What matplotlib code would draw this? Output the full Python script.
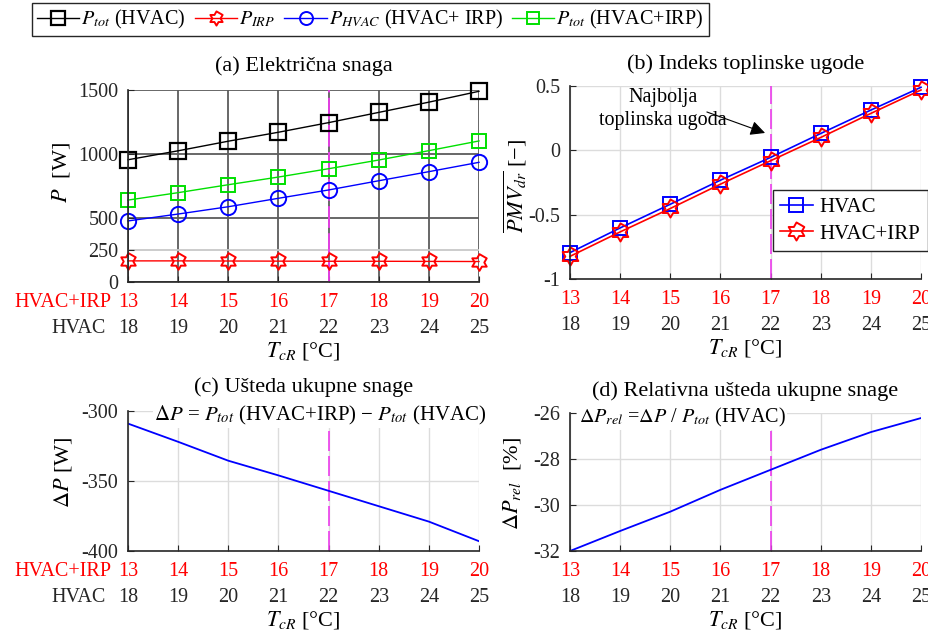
import numpy as np
import matplotlib
matplotlib.use("Agg")
import matplotlib.pyplot as plt
from matplotlib.path import Path

plt.rcParams["font.family"] = ["Liberation Serif", "DejaVu Serif"]
plt.rcParams["mathtext.fontset"] = "stix"
plt.rcParams["axes.unicode_minus"] = False

# data
t_irp = [13, 14, 15, 16, 17, 18, 19, 20]
t_hvac = [18, 19, 20, 21, 22, 23, 24, 25]
p_tot_hvac = [955, 1025, 1100, 1170, 1245, 1325, 1405, 1490]
p_irp = [165, 165, 164, 163, 162, 162, 161, 160]
p_hvac_irp = [477, 531, 588, 654, 719, 791, 862, 935]
p_tot_irp = [640, 698, 760, 820, 885, 953, 1026, 1102]
pmv_hvac = [-0.795, -0.603, -0.419, -0.232, -0.055, 0.131, 0.313, 0.49]
pmv_irp = [-0.824, -0.634, -0.452, -0.263, -0.081, 0.10, 0.287, 0.469]
delta_p = [-309, -322, -335.5, -346, -357, -368, -379, -393]
delta_p_rel = [-32.0, -31.13, -30.29, -29.34, -28.47, -27.6, -26.83, -26.22]
best_t = 17

W, H = 929, 636
TICK_FS = 14.5
MAG = "#ec3cec"

# six pointed star marker
ang = np.deg2rad(90 + 30 * np.arange(12))
rad = np.where(np.arange(12) % 2 == 0, 1.0, 1 / np.sqrt(3))
hexagram = Path(np.column_stack([rad * np.cos(ang), rad * np.sin(ang)]), closed=True)


def px_axes(left, right, top, bottom):
    return fig.add_axes([left / W, 1 - bottom / H, (right - left) / W, (bottom - top) / H])


def style(ax, dark=False):
    for s in ["top", "right"]:
        ax.spines[s].set_visible(False)
    for s in ["left", "bottom"]:
        ax.spines[s].set_color("#262626")
        ax.spines[s].set_linewidth(1.2)
    ax.tick_params(direction="in", length=4, labelsize=TICK_FS, colors="#262626", pad=7)
    ax.set_xlim(13, 20)
    ax.set_xticks(t_irp)
    ax.set_xticklabels([])
    if dark:
        ax.grid(True, color="#5c5c5c", lw=1.3)
    else:
        ax.grid(True, color="#dcdcdc", lw=1.0)
    ax.set_axisbelow(True)


def two_rows(ax, names=True):
    tr = ax.get_xaxis_transform()
    for a, b in zip(t_irp, t_hvac):
        ax.annotate(str(a), xy=(a, 0), xycoords=tr, xytext=(0, -14.5), textcoords="offset points",
                    ha="center", va="center", color="red", fontsize=TICK_FS, annotation_clip=False)
        ax.annotate(str(b), xy=(b - 5, 0), xycoords=tr, xytext=(0, -33.5), textcoords="offset points",
                    ha="center", va="center", color="#262626", fontsize=TICK_FS, annotation_clip=False)
    if names:
        ax.annotate("HVAC+IRP", xy=(0, 0), xycoords="axes fraction", xytext=(-12, -14.5),
                    textcoords="offset points", ha="right", va="center", color="red", fontsize=TICK_FS)
        ax.annotate("HVAC", xy=(0, 0), xycoords="axes fraction", xytext=(-16, -33.5),
                    textcoords="offset points", ha="right", va="center", color="#262626", fontsize=TICK_FS)
    ax.annotate(r"$T_{cR}$ [°C]", xy=(0.5, 0), xycoords="axes fraction", xytext=(0, -50),
                textcoords="offset points", ha="center", va="center", fontsize=16)


fig = plt.figure(figsize=(W / 100, H / 100), dpi=100)

# (a) electrical power
ax = px_axes(128, 479, 90, 282)
style(ax, dark=True)
ax.set_ylim(0, 1500)
ax.set_yticks([0, 250, 500, 1000, 1500])
ax.yaxis.get_gridlines()[1].set_color("#c8c8c8")
ax.axvline(best_t, color=MAG, lw=1.3, dashes=(12, 3), zorder=1.5)
h1, = ax.plot(t_irp, p_tot_hvac, "k-", marker="s", ms=12, mfc="none", mew=1.6, lw=1.0, clip_on=False)
h2, = ax.plot(t_irp, p_irp, color="red", marker=hexagram, ms=12, mfc="none", mew=1.4, lw=1.0, clip_on=False)
h3, = ax.plot(t_irp, p_hvac_irp, color="blue", marker="o", ms=11, mfc="none", mew=1.4, lw=1.0, clip_on=False)
h4, = ax.plot(t_irp, p_tot_irp, color="#00e000", marker="s", ms=10, mfc="none", mew=1.4, lw=1.0, clip_on=False)
ax.set_title("(a) Električna snaga", fontsize=16, pad=14)
ax.text(-0.19, 0.57, r"$P$  [W]", transform=ax.transAxes, rotation=90, ha="center", va="center", fontsize=16)
two_rows(ax)

fig.legend([h1, h2, h3, h4],
           [r"$P_{tot}$ (HVAC)", r"$P_{IRP}$", r"$P_{HVAC}$ (HVAC+ IRP)", r"$P_{tot}$ (HVAC+IRP)"],
           loc="upper left", bbox_to_anchor=(32 / W, 1 - 3 / H), ncol=4, fontsize=14.5,
           frameon=True, fancybox=False, edgecolor="#262626", framealpha=1, markerscale=0.85,
           handlelength=2.1, handletextpad=0.1, columnspacing=0.45, borderpad=0.25, borderaxespad=0)

# (b) thermal comfort index
ax = px_axes(570, 921, 86, 279)
style(ax)
ax.set_ylim(-1, 0.5)
ax.set_yticks([-1, -0.5, 0, 0.5])
ax.set_yticklabels(["-1", "-0.5", "0", "0.5"])
ax.axvline(best_t, color=MAG, lw=1.2, dashes=(12, 3), zorder=1.5)
b1, = ax.plot(t_irp, pmv_hvac, color="blue", marker="s", ms=10, mfc="none", mew=1.4, lw=1.2, clip_on=False)
b2, = ax.plot(t_irp, pmv_irp, color="red", marker=hexagram, ms=13, mfc="none", mew=1.4, lw=1.2, clip_on=False)
ax.set_title("(b) Indeks toplinske ugode", fontsize=16, pad=12)
ax.text(-0.157, 0.48, r"$\overline{PMV_{dr}}$ [−]", transform=ax.transAxes, rotation=90,
        ha="center", va="center", fontsize=16)
ax.text(14.85, 0.32, "Najbolja\ntoplinska ugoda", ha="center", va="center", fontsize=14.5, linespacing=1.25)
ax.annotate("", xy=(16.89, 0.135), xytext=(15.73, 0.298),
            arrowprops=dict(arrowstyle="-|>", color="black", lw=0.8, mutation_scale=22, shrinkA=0, shrinkB=0))
ax.legend([b1, b2], ["HVAC", "HVAC+IRP"], loc="upper left",
          bbox_to_anchor=((773 - 570) / 351, (279 - 190) / 193),
          fontsize=15, frameon=True, fancybox=False, edgecolor="#262626", framealpha=1,
          handlelength=1.55, handletextpad=0.35, borderpad=0.35, labelspacing=0.35, borderaxespad=0)
two_rows(ax, names=False)

# (c) total power saving
ax = px_axes(128, 479, 411, 551)
style(ax)
ax.set_ylim(-400, -300)
ax.set_yticks([-400, -350, -300])
ax.axvline(best_t, color=MAG, lw=1.2, dashes=(12, 3), zorder=1.5)
ax.plot(t_irp, delta_p, color="blue", lw=1.3)
ax.set_title("(c) Ušteda ukupne snage", fontsize=16, pad=14)
ax.text(0.548, 0.97, r"$\Delta P$ = $P_{tot}$ (HVAC+IRP) − $P_{tot}$ (HVAC)", transform=ax.transAxes,
        ha="center", va="center", fontsize=15, bbox=dict(fc="white", ec="none", pad=1), zorder=5)
ax.text(-0.185, 0.56, r"$\Delta P$ [W]", transform=ax.transAxes, rotation=90, ha="center", va="center", fontsize=16)
two_rows(ax)

# (d) relative power saving
ax = px_axes(570, 921, 413, 551)
style(ax)
ax.set_ylim(-32, -26)
ax.set_yticks([-32, -30, -28, -26])
ax.axvline(best_t, color=MAG, lw=1.2, dashes=(12, 3), zorder=1.5)
ax.plot(t_irp, delta_p_rel, color="blue", lw=1.3)
ax.set_title("(d) Relativna ušteda ukupne snage", fontsize=16, pad=12)
ax.text(0.025, 0.97, r"$\Delta P_{rel}$ =$\Delta P$ / $P_{tot}$ (HVAC)", transform=ax.transAxes,
        ha="left", va="center", fontsize=14.5, bbox=dict(fc="white", ec="none", pad=1), zorder=5)
ax.text(-0.165, 0.49, r"$\Delta P_{rel}$  [%]", transform=ax.transAxes, rotation=90, ha="center", va="center", fontsize=16)
two_rows(ax, names=False)

fig.savefig("out.png", dpi=100)
